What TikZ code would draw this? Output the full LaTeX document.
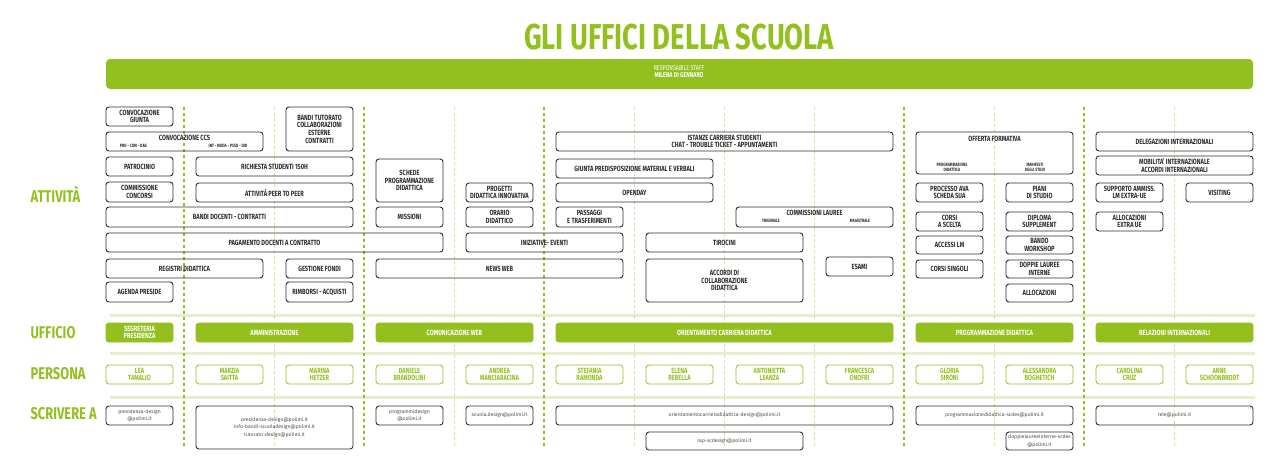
\documentclass[tikz,border=0pt]{standalone}
\usepackage{fontspec}
\setmainfont{Fira Sans}[FakeStretch=0.76]
\newfontfamily\mailfont{Fira Sans}

\definecolor{verde}{RGB}{147,192,31}
\definecolor{verdechiaro}{RGB}{229,239,205}
\definecolor{verdetenue}{RGB}{208,227,160}
\definecolor{grigio}{RGB}{45,45,45}

\tikzset{
  cella/.style={draw=grigio, line width=0.9pt, rounded corners=3pt, inner sep=0pt,
    align=center, text=grigio, font=\fontsize{7.5}{7.6}\selectfont\bfseries},
  ufficio/.style={cella, draw=verde, fill=verde, text=white},
  persona/.style={cella, draw=verde, text=verde, line width=0.8pt},
  mail/.style={cella, text=grigio!85, font=\mailfont\fontsize{5.1}{7.5}\selectfont},
  etichetta/.style={text=verde, anchor=west, font=\fontsize{17}{17}\selectfont\bfseries},
  sotto/.style={text=grigio, align=center, font=\fontsize{4.7}{5.2}\selectfont\bfseries},
  divisore/.style={verde, line width=1.6pt, dash pattern=on 3pt off 3pt},
  divisoresottile/.style={verdetenue, line width=0.7pt, dash pattern=on 3pt off 2.5pt},
  fascia/.style={verdechiaro, line width=3pt}
}

% box from column #3 to column #4, between y=#5 and y=#6
\newcommand{\casella}[7][cella]{%
  \pgfmathsetmacro{\larg}{90*(#4-#3)+67}%
  \node[#1, minimum width=\larg pt, minimum height={(#6-#5)*1pt}] (#2)
    at ({106+90*(#3-1)+\larg/2},{(#5+#6)/2}) {#7};}

\begin{document}
\begin{tikzpicture}[x=1pt, y=-1pt]
    \useasboundingbox (0,0) rectangle (1280,469);

    % title and staff bar
    \node[text=verde, font=\fontsize{36}{36}\selectfont\bfseries] (titolo) at (679,37) {GLI UFFICI DELLA SCUOLA};
    \node[fill=verde, rounded corners=4pt, minimum width=1147pt, minimum height=30pt, inner sep=0pt] (staff) at (679.5,74) {};
    \node[text=white, font=\fontsize{7}{7}\selectfont] (resp) at (679,68) {RESPONSABILE STAFF};
    \node[text=white, font=\fontsize{7}{7}\selectfont\bfseries] (milena) at (679,75.5) {MILENA DI GENNARO};

    % row labels
    \node[etichetta] (attivita) at (27,194) {ATTIVITÀ};
    \node[etichetta] (uff) at (27,333) {UFFICIO};
    \node[etichetta] (pers) at (27,374) {PERSONA};
    \node[etichetta] (scriv) at (27,414) {SCRIVERE A};

    % bands and column dividers
    \foreach \y in {315,353,397}
        \draw[fascia] (110,\y) -- (1255,\y);
    \foreach \i in {2,4,6,7,8,10,12}
        \draw[divisoresottile] ({106+90*\i-12},107) -- ({106+90*\i-12},447);
    \foreach \i in {1,3,5,9,11}
        \draw[divisore] ({106+90*\i-12},107) -- ({106+90*\i-12},447);

    % attivita
    \casella{convgiunta}{1}{1}{107}{126}{CONVOCAZIONE\\GIUNTA}
    \casella{convccs}{1}{2}{132}{151}{}
    \node[cella, draw=none] (ccs) at (184.5,138) {CONVOCAZIONE CCS};
    \node[sotto] (pro) at (133.5,146) {PRO - COM - D\&E};
    \node[sotto] (int) at (228,146) {INT - MODA - PSSD - DID};
    \casella{banditutorato}{3}{3}{107}{151}{BANDI TUTORATO\\COLLABORAZIONI\\ESTERNE\\CONTRATTI}
    \casella{patrocinio}{1}{1}{157}{176}{PATROCINIO}
    \casella{richiesta}{2}{3}{157}{176}{RICHIESTA STUDENTI 150H}
    \casella{concorsi}{1}{1}{182}{202}{COMMISSIONE\\CONCORSI}
    \casella{peer}{2}{3}{183}{202}{ATTIVITÀ PEER TO PEER}
    \casella{bandidocenti}{1}{3}{207}{227}{BANDI DOCENTI - CONTRATTI}
    \casella{pagamento}{1}{4}{233}{252}{PAGAMENTO DOCENTI A CONTRATTO}
    \casella{registri}{1}{2}{259}{278}{REGISTRI DIDATTICA}
    \casella{fondi}{3}{3}{259}{278}{GESTIONE FONDI}
    \casella{agenda}{1}{1}{282}{302}{AGENDA PRESIDE}
    \casella{rimborsi}{3}{3}{282}{302}{RIMBORSI - ACQUISTI}

    \casella{schede}{4}{4}{159}{202}{SCHEDE\\PROGRAMMAZIONE\\DIDATTICA}
    \casella{missioni}{4}{4}{207}{227}{MISSIONI}
    \casella{progetti}{5}{5}{183}{202}{PROGETTI\\DIDATTICA INNOVATIVA}
    \casella{orario}{5}{5}{207}{227}{ORARIO\\DIDATTICO}
    \casella{iniziative}{5}{6}{233}{252}{INIZIATIVE- EVENTI}
    \casella{newsweb}{4}{6}{259}{278}{NEWS WEB}

    \casella{istanze}{6}{9}{132}{151}{ISTANZE CARRIERA STUDENTI\\CHAT - TROUBLE TICKET - APPUNTAMENTI}
    \casella{giunta}{6}{7}{159}{178}{GIUNTA PREDISPOSIZIONE MATERIAL E VERBALI}
    \casella{openday}{6}{7}{183}{202}{OPENDAY}
    \casella{passaggi}{6}{6}{207}{227}{PASSAGGI\\E TRASFERIMENTI}
    \casella{lauree}{8}{9}{207}{227}{}
    \node[cella, draw=none] (commlauree) at (814.5,213) {COMMISSIONI LAUREE};
    \node[sotto] (triennale) at (771,220.5) {TRIENNALE};
    \node[sotto] (magistrale) at (860,220.5) {MAGISTRALE};
    \casella{tirocini}{7}{8}{233}{252}{TIROCINI}
    \casella{accordi}{7}{8}{259}{302}{ACCORDI DI\\COLLABORAZIONE\\DIDATTICA}
    \casella{esami}{9}{9}{257}{276}{ESAMI}

    \casella{offerta}{10}{11}{132}{174}{}
    \node[cella, draw=none] (offform) at (994.5,139) {OFFERTA FORMATIVA};
    \node[sotto] (progdid) at (952,167) {PROGRAMMAZIONE\\DIDATTICA};
    \node[sotto] (manifesti) at (1035,167) {MANIFESTI\\DEGLI STUDI};
    \casella{ava}{10}{10}{183}{202}{PROCESSO AVA\\SCHEDA SUA}
    \casella{piani}{11}{11}{183}{202}{PIANI\\DI STUDIO}
    \casella{scelta}{10}{10}{212}{231}{CORSI\\A SCELTA}
    \casella{diploma}{11}{11}{212}{231}{DIPLOMA\\SUPPLEMENT}
    \casella{accessi}{10}{10}{236}{254}{ACCESSI LM}
    \casella{bando}{11}{11}{236}{254}{BANDO\\WORKSHOP}
    \casella{singoli}{10}{10}{260}{278}{CORSI SINGOLI}
    \casella{doppie}{11}{11}{260}{278}{DOPPIE LAUREE\\INTERNE}
    \casella{allocazioni}{11}{11}{284}{302}{ALLOCAZIONI}

    \casella{delegazioni}{12}{13}{132}{151}{DELEGAZIONI INTERNAZIONALI}
    \casella{mobilita}{12}{13}{156}{175}{MOBILITA' INTERNAZIONALE\\ACCORDI INTERNAZIONALI}
    \casella{supporto}{12}{12}{183}{202}{SUPPORTO AMMISS.\\LM EXTRA-UE}
    \casella{visiting}{13}{13}{183}{202}{VISITING}
    \casella{allocextra}{12}{12}{212}{231}{ALLOCAZIONI\\EXTRA UE}

    % uffici
    \casella[ufficio]{segreteria}{1}{1}{323}{342}{SEGRETERIA\\PRESIDENZA}
    \casella[ufficio]{amministrazione}{2}{3}{323}{342}{AMMINISTRAZIONE}
    \casella[ufficio]{comunicazione}{4}{5}{323}{342}{COMUNICAZIONE WEB}
    \casella[ufficio]{orientamento}{6}{9}{323}{342}{ORIENTAMENTO CARRIERA DIDATTICA}
    \casella[ufficio]{programmazione}{10}{11}{323}{342}{PROGRAMMAZIONE DIDATTICA}
    \casella[ufficio]{relazioni}{12}{13}{323}{342}{RELAZIONI INTERNAZIONALI}

    % persone
    \foreach \c/\nome in {1/{LEA\\TAMALIO}, 2/{MARZIA\\SAITTA}, 3/{MARINA\\HETZER},
        4/{DANIELE\\BRANDOLINI}, 5/{ANDREA\\MANCIARACINA}, 6/{STEFANIA\\RAMONDA},
        7/{ELENA\\REBELLA}, 8/{ANTONIETTA\\LEANZA}, 9/{FRANCESCA\\ONOFRI},
        10/{GLORIA\\SIRONI}, 11/{ALESSANDRA\\BOGHETICH}, 12/{CAROLINA\\CRUZ},
        13/{ANNE\\SCHOONBRODT}}
        \casella[persona]{p\c}{\c}{\c}{365}{384}{\nome};

    % indirizzi
    \casella[mail]{m1}{1}{1}{406}{425}{presidenza-design\\@polimi.it}
    \casella[mail]{m2}{2}{3}{406}{449}{presidenza-design@polimi.it\\info-bandi-scuoladesign@polimi.it\\tutorato-design@polimi.it}
    \casella[mail]{m4}{4}{4}{406}{425}{programmidesign\\@polimi.it}
    \casella[mail]{m5}{5}{5}{406}{425}{scuola.design@polimi.it}
    \casella[mail]{m6}{6}{9}{406}{425}{orientamentocarrieradidattica-design@polimi.it}
    \casella[mail]{m7}{7}{8}{432}{450}{rap-scdesign@polimi.it}
    \casella[mail]{m10}{10}{11}{406}{425}{programmazionedidattica-scdes@polimi.it}
    \casella[mail]{m11}{11}{11}{432}{450}{doppielaureeinterne-scdes\\@polimi.it}
    \casella[mail]{m12}{12}{13}{406}{425}{rele@polimi.it}
\end{tikzpicture}
\end{document}
